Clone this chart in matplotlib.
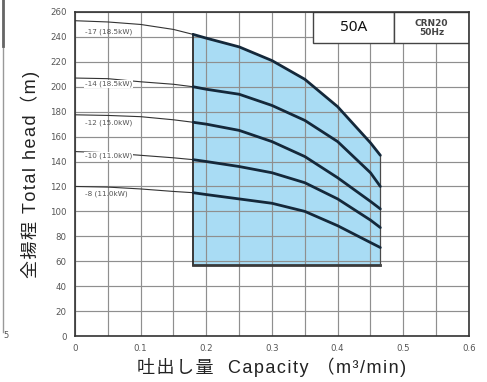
import matplotlib
matplotlib.use("Agg")
import matplotlib.pyplot as plt
from matplotlib.lines import Line2D
import numpy as np

# ---- data ----
capacity = [0.0, 0.05, 0.1, 0.15, 0.18, 0.2, 0.25, 0.3, 0.35, 0.4, 0.45, 0.465]
head_17 = [253, 252, 250, 246, 242, 239, 232, 221, 206, 184, 155, 145]
head_14 = [207, 206.5, 204, 202, 200, 198, 194, 185, 173, 156, 131, 120]
head_12 = [177.5, 177, 176, 173.5, 171.5, 170, 165, 156, 144, 127, 108, 102]
head_10 = [148, 147, 145, 143, 141.5, 140, 136, 131, 123, 110, 93, 87]
head_8 = [120, 119.5, 118, 116, 115, 113.5, 110, 106.5, 100, 88.5, 75, 71]
curve_labels = ["-17 (18.5kW)", "-14 (18.5kW)", "-12 (15.0kW)", "-10 (11.0kW)", "-8 (11.0kW)"]
range_min_q = 0.18
range_max_q = 0.465
range_min_h = 57
x_ticks = [0, 0.1, 0.2, 0.3, 0.4, 0.5, 0.6]
x_tick_labels = ["0", "0.1", "0.2", "0.3", "0.4", "0.5", "0.6"]
y_ticks = list(range(0, 261, 20))
box_model = "50A"
box_pump = "CRN20\n50Hz"
x_title = "吐出し量  Capacity （m³/min)"
y_title = "全揚程 Total head（m)"

lab_fam = ['Liberation Sans', 'DejaVu Sans', 'Noto Sans CJK JP']


def track(s):
    return "\u200a".join(s)


fig = plt.figure(figsize=(4.87, 3.82), dpi=100)
ax = fig.add_axes([0.154, 0.1204, 0.809, 0.8482])
ax.set_xlim(0, 0.6)
ax.set_ylim(0, 260)

# grid
for xv in np.arange(0, 0.6001, 0.05):
    ax.axvline(xv, color="#8f8f8f", lw=0.85, zorder=1.5)
for yv in y_ticks:
    ax.axhline(yv, color="#8f8f8f", lw=0.85, zorder=1.5)

q = np.array(capacity)
curves = [np.array(h) for h in (head_17, head_14, head_12, head_10, head_8)]

# shaded operating range
mask = q >= range_min_q
ax.fill_between(q[mask], range_min_h, curves[0][mask], color="#a9dcf4", zorder=1, lw=0)
ax.plot([range_min_q, range_min_q], [range_min_h, curves[0][mask][0]], color="#2a2a2a", lw=1.3, zorder=3)
ax.plot([range_min_q, range_max_q], [range_min_h, range_min_h], color="#3a3a3a", lw=2.0, zorder=3)
ax.plot([range_max_q, range_max_q], [range_min_h, curves[0][mask][-1]], color="#4a4a4a", lw=0.9, zorder=3)

for h in curves:
    thin = q <= range_min_q
    ax.plot(q[thin], h[thin], color="#333333", lw=0.8, zorder=3)
    ax.plot(q[mask], h[mask], color="#14283a", lw=2.0, zorder=3,
            solid_capstyle="round", solid_joinstyle="round")

# curve labels
lab_y = [244.5, 202.5, 171.5, 144.5, 114]
for lab, yv, on_line in zip(curve_labels, lab_y, [False, True, False, True, False]):
    kw = {}
    if on_line:
        kw["bbox"] = dict(boxstyle="square,pad=0.1", fc="white", ec="none")
    ax.text(0.015, yv, lab, fontsize=5.2, color="#555555", va="center", ha="left", zorder=4, **kw)

# title boxes
ax.add_patch(plt.Rectangle((0.362, 235.5), 0.1235, 24.5, fc="white", ec="#444444", lw=1.0, zorder=5))
ax.add_patch(plt.Rectangle((0.4855, 235.5), 0.1145, 24.5, fc="white", ec="#444444", lw=1.0, zorder=5))
ax.text(0.424, 247.5, box_model, fontsize=11, ha="center", va="center", zorder=6, color="#111111",
        family="Noto Sans")
ax.text(0.543, 247.5, box_pump, fontsize=6.5, ha="center", va="center", zorder=6, color="#444444",
        fontweight="bold", linespacing=1.0)

ax.set_xticks(x_ticks)
ax.set_xticklabels(x_tick_labels)
ax.set_yticks(y_ticks)
ax.tick_params(length=0, labelsize=6.2, labelcolor="#555555", pad=6)
for s in ax.spines.values():
    s.set_color("#333333")
    s.set_linewidth(1.2)
    s.set_zorder(6)

ax.set_xlabel(track(x_title), fontsize=13, family=lab_fam, color="#222222", labelpad=3)
ax.set_ylabel(track(y_title), fontsize=13, family=lab_fam, color="#222222", labelpad=7)

# remnants of neighbouring chart at left edge
fig.add_artist(Line2D([0.006, 0.006], [0.13, 1.0], color="#999999", lw=1.0, transform=fig.transFigure))
fig.add_artist(Line2D([0.006, 0.006], [0.88, 1.0], color="#666666", lw=2.0, transform=fig.transFigure))
fig.text(0.006, 0.115, "5", fontsize=6, color="#555555")

fig.savefig("out.png", dpi=100)
